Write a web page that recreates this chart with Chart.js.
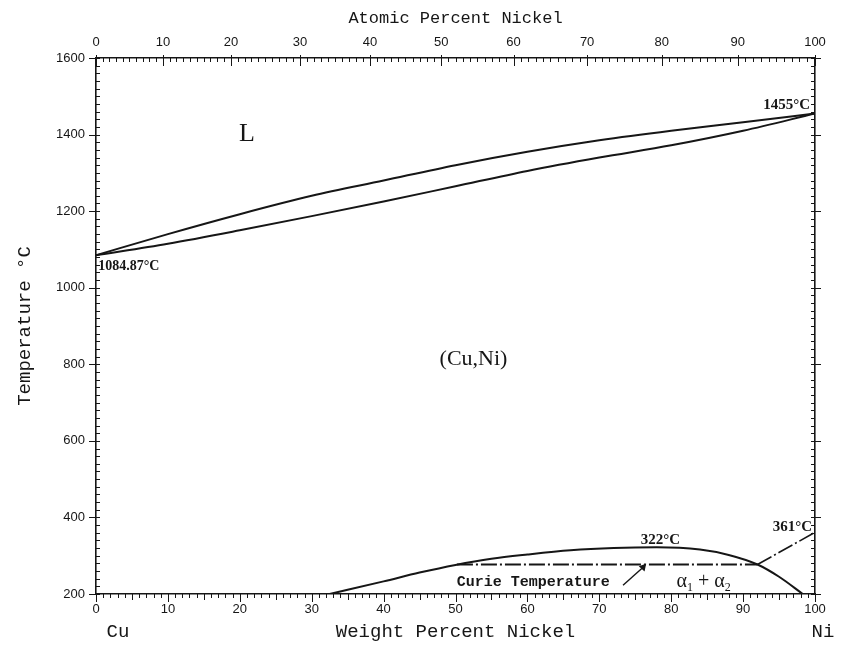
<!DOCTYPE html>
<html><head><meta charset="utf-8">
<script src="https://cdn.jsdelivr.net/npm/chart.js@4/dist/chart.umd.min.js"></script>
<style>html,body{margin:0;padding:0;background:#fff}#wrap{width:845px;height:645px}</style>
</head><body><div id="wrap"><canvas id="c" width="845" height="645"></canvas></div>
<script>
// ---- data ----
const weightTicks = [0,10,20,30,40,50,60,70,80,90,100];
const atomicTicks = [0,10,20,30,40,50,60,70,80,90,100];
const tempTicks = [200,400,600,800,1000,1200,1400,1600];

const liquidusWt = [0,10,20,30,40,50,60,70,80,90,100];
const liquidusT  = [1084.87,1140,1192,1240,1280,1320,1355,1385,1410,1432,1455];
const solidusWt  = [0,10,20,30,40,50,60,70,80,90,100];
const solidusT   = [1084.87,1115,1150,1187,1225,1265,1305,1340,1372,1410,1455];
const gapWt = [32.5,40,45,50,55,60,66,72,78,84,88,92,95,98.3];
const gapT  = [200,233,256,276,292,303,314,320,322,316,302,277,245,200];
const curieWt = [50.2,92];
const curieT  = [277,277];
const curieNiWt = [92,100];
const curieNiT  = [277,361];
const arrowWt = [73.3,76.1];
const arrowT  = [223,270];

const INK = '#161616';
const toWt = a => 100*a*58.693/(a*58.693+(100-a)*63.546);
const pts = (xs, ys) => xs.map((x,i)=>({x:x, y:ys[i]}));
function line(label, xs, ys, extra){
  return Object.assign({label:label, data:pts(xs,ys), showLine:true, borderColor:INK, backgroundColor:INK,
    borderWidth:2, pointRadius:0, fill:false, cubicInterpolationMode:'monotone', xAxisID:'x', yAxisID:'y'}, extra||{});
}

// text notes (position in data units)
const notes = [
  {text:'L', x:21, y:1400, font:'26px "Liberation Serif"', align:'center'},
  {text:'(Cu,Ni)', x:52.5, y:812, font:'22px "Liberation Serif"', align:'center'},
  {text:'1084.87°C', x:0.3, y:1055, font:'bold 14px "Liberation Serif"', align:'left'},
  {text:'1455°C', x:99.3, y:1478, font:'bold 15px "Liberation Serif"', align:'right'},
  {text:'322°C', x:78.5, y:342, font:'bold 15px "Liberation Serif"', align:'center'},
  {text:'361°C', x:99.6, y:374, font:'bold 15px "Liberation Serif"', align:'right'},
  {text:'Curie Temperature', x:60.8, y:231, font:'bold 15px "Liberation Mono"', align:'center'}
];

const decor = {
  id:'decor',
  beforeDraw(chart){
    const ctx = chart.ctx; ctx.save(); ctx.fillStyle='#fff'; ctx.fillRect(0,0,chart.width,chart.height); ctx.restore();
  },
  afterDraw(chart){
    const {ctx, chartArea:a, scales} = chart;
    const x = scales.x, y = scales.y, x2 = scales.x2;
    ctx.save();
    ctx.strokeStyle = INK; ctx.lineWidth = 1;
    ctx.beginPath();
    for (let w=0; w<=100; w++){
      const px = Math.round(x.getPixelForValue(w))+0.5;
      const L = w%10===0 ? 8 : (w%5===0 ? 6 : 4);
      ctx.moveTo(px, a.bottom); ctx.lineTo(px, a.bottom+L);
    }
    for (let at=0; at<=100; at++){
      const px = Math.round(x2.getPixelForValue(toWt(at)))+0.5;
      const major = at%10===0;
      ctx.moveTo(px, major ? a.top-3 : a.top); ctx.lineTo(px, a.top+(major?8:4));
    }
    for (let t=200; t<=1600; t+=20){
      const py = Math.round(y.getPixelForValue(t))+0.5;
      const major = t%200===0;
      ctx.moveTo(a.left-(major?7:0), py); ctx.lineTo(a.left+4, py);
      ctx.moveTo(a.right+(major?6:0), py); ctx.lineTo(a.right-4, py);
    }
    ctx.stroke();

    ctx.fillStyle = INK; ctx.textBaseline = 'middle';
    notes.forEach(n=>{
      ctx.font = n.font; ctx.textAlign = n.align;
      ctx.fillText(n.text, x.getPixelForValue(n.x), y.getPixelForValue(n.y));
    });
    // alpha1 + alpha2
    const cx = x.getPixelForValue(84.5), cy = y.getPixelForValue(232);
    const parts = [['α','20px "Liberation Serif"',0],['1','12px "Liberation Serif"',6],[' + ','20px "Liberation Serif"',0],['α','20px "Liberation Serif"',0],['2','12px "Liberation Serif"',6]];
    let total = 0;
    parts.forEach(p=>{ctx.font=p[1]; total += ctx.measureText(p[0]).width;});
    let px = cx - total/2; ctx.textAlign='left';
    parts.forEach(p=>{ctx.font=p[1]; ctx.fillText(p[0], px, cy+p[2]); px += ctx.measureText(p[0]).width;});
    // Cu / Ni end labels
    ctx.font = '19px "Liberation Mono"'; ctx.textAlign='center';
    ctx.fillText('Cu', x.getPixelForValue(0)+22, 632);
    ctx.fillText('Ni', x.getPixelForValue(100)+8, 632);
    ctx.restore();
  }
};

const tickFont = {family:'"Liberation Sans", Arial, sans-serif', size:13};
const noGrid = {display:false, drawTicks:false, drawOnChartArea:false};
new Chart(document.getElementById('c'), {
  type:'scatter',
  data:{datasets:[
    line('Liquidus', liquidusWt, liquidusT),
    line('Solidus', solidusWt, solidusT),
    line('Miscibility gap', gapWt, gapT),
    line('Curie temperature', curieWt, curieT, {borderDash:[16,3,2,3], borderWidth:2, cubicInterpolationMode:'default', tension:0}),
    line('Curie temperature (Ni)', curieNiWt, curieNiT, {borderDash:[16,3,2,3], borderWidth:1.6, cubicInterpolationMode:'default', tension:0}),
    line('Arrow', arrowWt, arrowT, {borderWidth:1.4, cubicInterpolationMode:'default', tension:0,
      pointStyle:'triangle', pointRadius:c=>c.dataIndex===1?4.5:0, pointRotation:42, pointBackgroundColor:INK, pointBorderWidth:0})
  ]},
  options:{
    responsive:false, animation:false, devicePixelRatio:1,
    layout:{padding:0},
    plugins:{legend:{display:false}, tooltip:{enabled:false}, title:{display:false}},
    scales:{
      x:{type:'linear', position:'bottom', min:0, max:100,
        afterBuildTicks:s=>{ s.ticks = weightTicks.map(v=>({value:v})); },
        afterFit:s=>{ s.height = 51; },
        ticks:{font:tickFont, color:INK, padding:8, autoSkip:false, maxRotation:0, callback:v=>String(v)},
        grid:noGrid, border:{display:true, color:INK, width:1.6},
        title:{display:true, text:'Weight Percent Nickel', color:INK, font:{family:'"Liberation Mono", monospace', size:19}, padding:{top:0,bottom:2}}
      },
      x2:{type:'linear', position:'top', min:0, max:100,
        afterBuildTicks:s=>{ s.ticks = atomicTicks.map(a=>({value:toWt(a)})); },
        afterFit:s=>{ s.height = 58; },
        ticks:{font:tickFont, color:INK, padding:8, autoSkip:false, maxRotation:0, callback:(v,i)=>String(atomicTicks[i])},
        grid:noGrid, border:{display:true, color:INK, width:1.6},
        title:{display:true, text:'Atomic Percent Nickel', color:INK, font:{family:'"Liberation Mono", monospace', size:17}, padding:{top:8,bottom:0}}
      },
      y:{type:'linear', position:'left', min:200, max:1600,
        afterBuildTicks:s=>{ s.ticks = tempTicks.map(v=>({value:v})); },
        afterFit:s=>{ s.width = 96; },
        ticks:{font:tickFont, color:INK, padding:11, autoSkip:false, callback:v=>String(v)},
        grid:noGrid, border:{display:true, color:INK, width:1.6},
        title:{display:true, text:'Temperature °C', color:INK, font:{family:'"Liberation Mono", monospace', size:19}, padding:{top:14,bottom:0}}
      },
      y2:{type:'linear', position:'right', min:200, max:1600,
        afterFit:s=>{ s.width = 30; },
        ticks:{display:false}, grid:noGrid, border:{display:true, color:INK, width:1.6}
      }
    }
  },
  plugins:[decor]
});
</script>
</body></html>
